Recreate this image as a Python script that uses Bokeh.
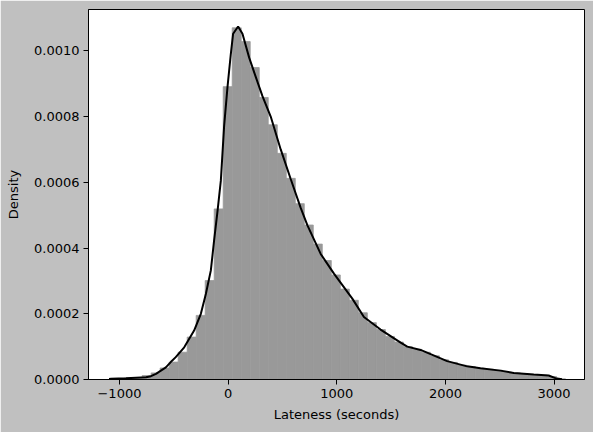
import numpy as np
from bokeh.plotting import figure
from bokeh.models import FixedTicker, PrintfTickFormatter, Range1d
from bokeh.embed import file_html
from bokeh.resources import INLINE

# Histogram: 50 equal bins
bin_start = -1040.0
bin_width = 82.9
bin_density = [
    0.000003, 0.000004, 0.000006, 0.000012, 0.000020, 0.000035, 0.000053, 0.000083,
    0.000129, 0.000195, 0.000301, 0.000519, 0.000891, 0.001070, 0.001028, 0.000949,
    0.000858, 0.000775, 0.000688, 0.000612, 0.000535, 0.000470, 0.000412, 0.000362,
    0.000318, 0.000275, 0.000241, 0.000203, 0.000173, 0.000152, 0.000131, 0.000114,
    0.000100, 0.000092, 0.000083, 0.000072, 0.000060, 0.000052, 0.000044, 0.000039,
    0.000034, 0.000031, 0.000028, 0.000023, 0.000020, 0.000017, 0.000015, 0.000013,
    0.000009, 0.000002,
]

# KDE curve
kde_x = [-1096, -1078, -940, -756, -710, -664, -573, -528, -482, -404, -313, -251,
         -205, -159, -129, -97, -67, -37, -6, 25, 46, 92, 132, 193, 255, 316, 392,
         484, 576, 668, 730, 852, 974, 1143, 1250, 1403, 1588, 1649, 1771, 2016,
         2200, 2323, 2507, 2629, 2813, 2950, 3012, 3073]
kde_y = [0.0000015, 0.0000020, 0.0000035, 0.000007, 0.000010, 0.000017, 0.000037,
         0.000053, 0.000068, 0.000098, 0.000149, 0.000200, 0.000260, 0.000332,
         0.000423, 0.000514, 0.000605, 0.000770, 0.000889, 0.000991, 0.001052,
         0.001074, 0.001052, 0.000980, 0.000920, 0.000862, 0.000800, 0.000700,
         0.000610, 0.000522, 0.000469, 0.000382, 0.000322, 0.000246, 0.000190,
         0.000152, 0.000112, 0.000100, 0.000090, 0.000056, 0.000040, 0.000034,
         0.000027, 0.000020, 0.000015, 0.000012, 0.000004, 0.000001]

x_ticks = [-1000, 0, 1000, 2000, 3000]
y_ticks = [0.0, 0.0002, 0.0004, 0.0006, 0.0008, 0.0010]

n = len(bin_density)
edges = bin_start + bin_width * np.arange(n + 1)

p = figure(width=593, height=432, output_backend="svg", toolbar_location=None,
           x_range=Range1d(-1285, 3280), y_range=Range1d(0, 0.0011257),
           min_border_left=88, min_border_right=9, min_border_top=9, min_border_bottom=53)

p.background_fill_color = "white"
p.border_fill_color = "#c0c0c0"
p.outline_line_color = "black"
p.outline_line_width = 1
p.grid.visible = False

p.quad(left=edges[:-1], right=edges[1:], top=bin_density, bottom=0,
       fill_color="#999999", line_color="#999999", line_width=0.8)
p.line(kde_x, kde_y, line_color="black", line_width=2)

font = "DejaVu Sans"
for ax in (p.xaxis[0], p.yaxis[0]):
    ax.axis_line_color = "black"
    ax.major_tick_line_color = "black"
    ax.major_tick_out = 5
    ax.major_tick_in = 0
    ax.minor_tick_line_color = None
    ax.major_label_text_font = font
    ax.major_label_text_font_size = "13px"
    ax.major_label_text_color = "black"
    ax.axis_label_text_font = font
    ax.axis_label_text_font_size = "13px"
    ax.axis_label_text_font_style = "normal"
    ax.axis_label_text_color = "black"

p.xaxis.ticker = FixedTicker(ticks=x_ticks)
p.xaxis.major_label_overrides = {t: (str(t).replace("-", "\u2212")) for t in x_ticks}
p.xaxis.axis_label = "Lateness (seconds)"
p.xaxis.major_label_standoff = 4
p.xaxis.axis_label_standoff = 6

p.yaxis.ticker = FixedTicker(ticks=y_ticks)
p.yaxis.formatter = PrintfTickFormatter(format="%.4f")
p.yaxis.axis_label = "Density"
p.yaxis.major_label_standoff = 4
p.yaxis.axis_label_standoff = 10

open("out.html", "w").write(file_html(p, INLINE))
